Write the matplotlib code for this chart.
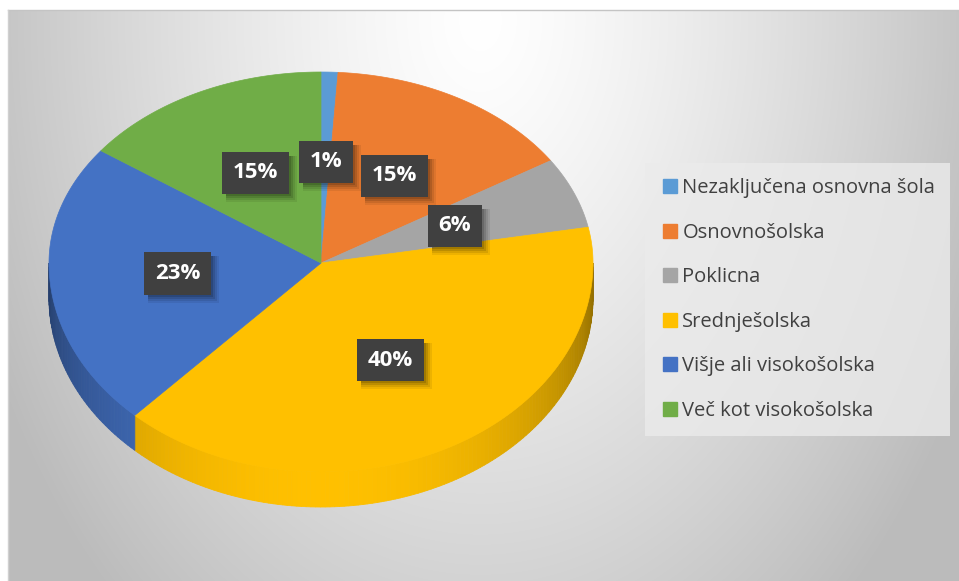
import numpy as np
import matplotlib
matplotlib.use('Agg')
import matplotlib.pyplot as plt
from matplotlib.patches import Polygon, Rectangle
from matplotlib.lines import Line2D
import matplotlib.colors as mcolors

# data
labels = ['Nezaključena osnovna šola', 'Osnovnošolska', 'Poklicna',
          'Srednješolska', 'Višje ali visokošolska', 'Več kot visokošolska']
values = [1, 15, 6, 40, 23, 15]
colors = ['#5B9BD5', '#ED7D31', '#A5A5A5', '#FFC000', '#4472C4', '#70AD47']

W, H = 959, 581
fig = plt.figure(figsize=(W / 100, H / 100), dpi=100)
ax = fig.add_axes([0, 0, 1, 1])
ax.set_xlim(0, W)
ax.set_ylim(H, 0)
ax.axis('off')

# chart area background
x0, y0 = 8, 10
gx, gy = np.meshgrid(np.arange(x0, W), np.arange(y0, H))
d = np.sqrt(((gx - 480) / 470.0) ** 2 + ((gy - 20) / 680.0) ** 2)
v = 1.0 - 0.22 * np.clip(d, 0, 1.15) ** 1.3
ax.imshow(np.dstack([v, v, v]), extent=(x0, W, H, y0), zorder=0, aspect='auto')
ax.plot([x0, W], [y0, y0], color='#c4c4c4', lw=1, zorder=1)
ax.plot([x0, x0], [y0, H], color='#d0d0d0', lw=1, zorder=1)

# pie geometry, back half a little flatter than the front (perspective)
cx, cy = 321, 263
rx = 272
ry_back, ry_front = 191, 209
depth = 35

frac = np.array(values) / np.sum(values)
starts = np.concatenate([[0], np.cumsum(frac)[:-1]]) * 360
ends = np.cumsum(frac) * 360


def pt(theta):
    t = np.radians(theta)
    c = np.cos(t)
    ry = np.where(c > 0, ry_back, ry_front)
    return cx + rx * np.sin(t), cy - ry * c


# side walls (front half only)
for s, e, c in zip(starts, ends, colors):
    a, b = max(s, 90), min(e, 270)
    if a >= b:
        continue
    base = np.array(mcolors.to_rgb(c))
    steps = np.linspace(a, b, max(int(b - a), 2) + 1)
    for t1, t2 in zip(steps[:-1], steps[1:]):
        tm = np.radians((t1 + t2) / 2)
        f = 0.55 + 0.45 * max(-np.cos(tm), 0)
        xa, ya = pt(t1)
        xb, yb = pt(t2)
        ax.add_patch(Polygon([(xa, ya), (xb, yb), (xb, yb + depth), (xa, ya + depth)],
                             closed=True, facecolor=base * f, edgecolor=base * f,
                             lw=0.6, zorder=2))

# top faces
for s, e, c in zip(starts, ends, colors):
    th = np.linspace(s, e, max(int((e - s) * 2), 2) + 1)
    xs, ys = pt(th)
    verts = [(cx, cy)] + list(zip(xs, ys))
    ax.add_patch(Polygon(verts, closed=True, facecolor=c, edgecolor=c, lw=0.5, zorder=3))

# data labels
label_texts = []
for s, e, val in zip(starts, ends, values):
    tm = (s + e) / 2
    lx, ly = pt(tm)
    lx = cx + 0.53 * (lx - cx)
    ly = cy + 0.53 * (ly - cy)
    t = ax.text(lx, ly, f'{val}%', ha='center', va='center', color='white',
                fontsize=16, fontweight='bold', family='Open Sans', zorder=6,
                bbox=dict(boxstyle='square,pad=0.48', facecolor='#404040',
                          edgecolor='none', lw=0))
    label_texts.append(t)

# soft drop shadow behind each label box
fig.canvas.draw()
renderer = fig.canvas.get_renderer()
inv = ax.transData.inverted()
for t in label_texts:
    bb = t.get_bbox_patch().get_window_extent(renderer)
    (bx0, by0), (bx1, by1) = inv.transform([[bb.x0, bb.y0], [bb.x1, bb.y1]])
    for off, grow, al in [(6, 2, 0.07), (5, 1, 0.09), (4, 0, 0.12), (3, -1, 0.14)]:
        ax.add_patch(Rectangle((min(bx0, bx1) + off - grow, min(by0, by1) + off - grow),
                               abs(bx1 - bx0) + 2 * grow, abs(by1 - by0) + 2 * grow,
                               facecolor='black', alpha=al, lw=0, zorder=5))

# legend
handles = [Line2D([], [], marker='s', ls='', markersize=10, markerfacecolor=c,
                  markeredgecolor=c) for c in colors]
leg = fig.legend(handles, labels, loc='upper left',
                 bbox_to_anchor=(645 / W, 1 - 163 / H), borderaxespad=0,
                 frameon=True, fancybox=False, labelspacing=1.22,
                 handletextpad=0.1, handlelength=1.0, borderpad=0.75,
                 prop={'family': 'Open Sans', 'size': 14.5})
leg.get_frame().set_facecolor('#ebebeb')
leg.get_frame().set_edgecolor('none')
leg.get_frame().set_alpha(0.8)
for txt in leg.get_texts():
    txt.set_color('#404040')

fig.savefig('out.png', dpi=100)
